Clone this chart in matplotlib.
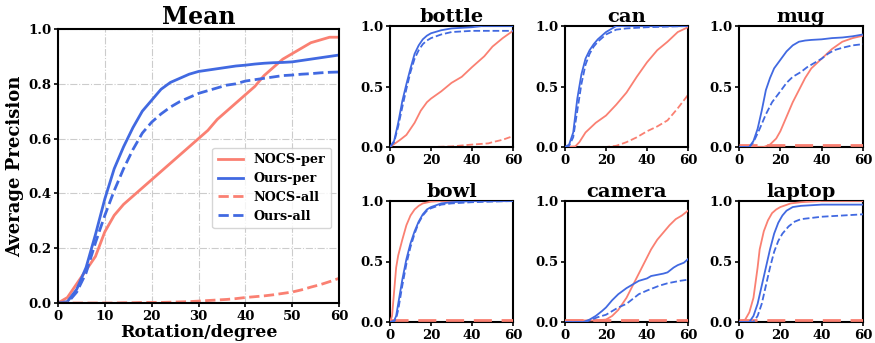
import matplotlib
matplotlib.use("Agg")
import matplotlib.pyplot as plt

plt.rcParams['font.family'] = ['DejaVu Serif']
plt.rcParams['font.weight'] = 'bold'

SALMON = '#FA8072'
BLUE = '#4169E1'

# ---------------- Mean panel data ----------------
mean_x = [0, 2, 4, 6, 8, 10, 12, 14, 16, 18, 20, 22, 24, 26, 28, 30, 32, 34, 36, 38,
          40, 42, 44, 46, 48, 50, 52, 54, 56, 58, 60]
mean_nocs_per = [0.0, 0.02, 0.07, 0.12, 0.17, 0.26, 0.32, 0.36, 0.39, 0.42, 0.45, 0.48,
                 0.51, 0.54, 0.57, 0.60, 0.63, 0.67, 0.70, 0.73, 0.76, 0.79, 0.83, 0.86,
                 0.89, 0.91, 0.93, 0.95, 0.96, 0.97, 0.97]
mean_ours_per = [0.0, 0.005, 0.05, 0.13, 0.25, 0.38, 0.49, 0.57, 0.64, 0.70, 0.74, 0.78,
                 0.805, 0.82, 0.835, 0.845, 0.85, 0.855, 0.86, 0.865, 0.868, 0.872, 0.875,
                 0.877, 0.878, 0.88, 0.885, 0.89, 0.895, 0.90, 0.905]
mean_nocs_all = [0.0, 0.0, 0.0, 0.0, 0.0, 0.0, 0.0, 0.001, 0.001, 0.002, 0.002, 0.002,
                 0.003, 0.004, 0.005, 0.007, 0.009, 0.011, 0.013, 0.016, 0.02, 0.023,
                 0.026, 0.03, 0.035, 0.04, 0.048, 0.058, 0.067, 0.078, 0.09]
mean_ours_all = [0.0, 0.0, 0.04, 0.11, 0.22, 0.32, 0.41, 0.49, 0.56, 0.62, 0.66, 0.69,
                 0.715, 0.735, 0.75, 0.765, 0.775, 0.785, 0.795, 0.80, 0.81, 0.815, 0.82,
                 0.825, 0.83, 0.832, 0.835, 0.837, 0.84, 0.842, 0.843]

# ---------------- per-category data ----------------
bottle_ours_per_x = [0, 2, 4, 6, 8, 10, 12, 14, 16, 18, 20, 25, 30, 40, 45, 60]
bottle_ours_per_y = [0.0, 0.05, 0.2, 0.38, 0.52, 0.65, 0.77, 0.84, 0.89, 0.92, 0.94, 0.965, 0.98, 0.99, 1.0, 1.0]
bottle_ours_all_x = [0, 2, 4, 6, 8, 10, 12, 14, 16, 18, 20, 25, 30, 40, 60]
bottle_ours_all_y = [0.0, 0.04, 0.17, 0.33, 0.48, 0.62, 0.73, 0.80, 0.85, 0.88, 0.90, 0.93, 0.95, 0.96, 0.96]
bottle_nocs_per_x = [0, 5, 8, 10, 12, 15, 18, 20, 25, 30, 35, 40, 44, 46, 50, 55, 60]
bottle_nocs_per_y = [0.0, 0.06, 0.10, 0.15, 0.20, 0.30, 0.37, 0.40, 0.46, 0.53, 0.58, 0.66, 0.72, 0.75, 0.83, 0.90, 0.96]
bottle_nocs_all_x = [0, 20, 30, 40, 48, 50, 55, 60]
bottle_nocs_all_y = [0.0, 0.0, 0.005, 0.02, 0.03, 0.04, 0.06, 0.09]

can_ours_per_x = [0, 2, 4, 6, 8, 10, 12, 14, 16, 18, 20, 24, 25, 60]
can_ours_per_y = [0.0, 0.02, 0.12, 0.40, 0.60, 0.73, 0.80, 0.85, 0.89, 0.92, 0.95, 0.99, 1.0, 1.0]
can_ours_all_x = [0, 2, 4, 6, 8, 10, 12, 14, 16, 18, 20, 25, 30, 40, 60]
can_ours_all_y = [0.0, 0.01, 0.08, 0.30, 0.52, 0.68, 0.77, 0.83, 0.87, 0.90, 0.93, 0.97, 0.98, 0.99, 1.0]
can_nocs_per_x = [0, 5, 7, 10, 15, 20, 25, 30, 35, 40, 45, 50, 55, 60]
can_nocs_per_y = [0.0, 0.005, 0.04, 0.12, 0.20, 0.26, 0.35, 0.45, 0.58, 0.70, 0.80, 0.87, 0.95, 0.99]
can_nocs_all_x = [0, 20, 25, 30, 35, 40, 45, 50, 55, 60]
can_nocs_all_y = [0.0, 0.0, 0.01, 0.04, 0.08, 0.13, 0.17, 0.22, 0.32, 0.43]

mug_ours_per_x = [0, 5, 7, 9, 11, 13, 15, 17, 20, 23, 26, 29, 32, 35, 40, 45, 50, 55, 60]
mug_ours_per_y = [0.0, 0.0, 0.05, 0.15, 0.30, 0.47, 0.57, 0.65, 0.72, 0.79, 0.84, 0.87, 0.88, 0.885, 0.89, 0.90, 0.905, 0.915, 0.93]
mug_ours_all_x = [0, 5, 7, 10, 13, 16, 20, 23, 26, 30, 33, 36, 40, 43, 46, 50, 55, 60]
mug_ours_all_y = [0.0, 0.0, 0.04, 0.15, 0.27, 0.37, 0.46, 0.53, 0.58, 0.62, 0.66, 0.69, 0.73, 0.77, 0.80, 0.82, 0.84, 0.85]
mug_nocs_per_x = [0, 12, 15, 18, 20, 23, 26, 29, 32, 35, 40, 45, 50, 55, 60]
mug_nocs_per_y = [0.0, 0.0, 0.02, 0.07, 0.13, 0.25, 0.37, 0.47, 0.57, 0.65, 0.73, 0.81, 0.87, 0.90, 0.92]
mug_nocs_all_x = [0, 60]
mug_nocs_all_y = [0.013, 0.013]

bowl_nocs_per_x = [0, 1, 2, 3, 4, 6, 8, 10, 12, 14, 16, 20, 25, 60]
bowl_nocs_per_y = [0.0, 0.05, 0.25, 0.45, 0.55, 0.68, 0.80, 0.88, 0.93, 0.96, 0.98, 0.995, 1.0, 1.0]
bowl_ours_per_x = [0, 2, 3, 4, 6, 8, 10, 12, 14, 16, 18, 20, 25, 30, 40, 60]
bowl_ours_per_y = [0.0, 0.01, 0.05, 0.15, 0.35, 0.52, 0.65, 0.75, 0.83, 0.89, 0.93, 0.95, 0.98, 0.99, 1.0, 1.0]
bowl_ours_all_x = [0, 2, 3, 4, 6, 8, 10, 12, 14, 16, 18, 20, 25, 30, 40, 60]
bowl_ours_all_y = [0.0, 0.005, 0.03, 0.10, 0.30, 0.48, 0.62, 0.73, 0.82, 0.88, 0.92, 0.94, 0.97, 0.98, 0.99, 1.0]
bowl_nocs_all_x = [0, 60]
bowl_nocs_all_y = [0.013, 0.013]

camera_ours_per_x = [0, 9, 12, 15, 18, 20, 23, 26, 30, 33, 36, 40, 42, 45, 48, 50, 53, 55, 58, 60]
camera_ours_per_y = [0.0, 0.0, 0.02, 0.05, 0.09, 0.12, 0.18, 0.23, 0.28, 0.31, 0.34, 0.36, 0.38, 0.39, 0.40, 0.41, 0.45, 0.47, 0.49, 0.52]
camera_ours_all_x = [0, 10, 13, 16, 20, 23, 26, 30, 33, 36, 40, 43, 46, 50, 53, 56, 60]
camera_ours_all_y = [0.0, 0.0, 0.02, 0.04, 0.06, 0.09, 0.12, 0.15, 0.19, 0.23, 0.26, 0.28, 0.30, 0.32, 0.33, 0.34, 0.35]
camera_nocs_per_x = [0, 15, 20, 23, 26, 30, 33, 36, 39, 42, 45, 48, 51, 54, 57, 60]
camera_nocs_per_y = [0.013, 0.013, 0.02, 0.05, 0.10, 0.20, 0.30, 0.40, 0.50, 0.60, 0.68, 0.74, 0.80, 0.85, 0.88, 0.92]
camera_nocs_all_x = [0, 60]
camera_nocs_all_y = [0.013, 0.013]

laptop_nocs_per_x = [0, 3, 5, 7, 9, 10, 12, 14, 16, 18, 20, 25, 30, 40, 60]
laptop_nocs_per_y = [0.0, 0.02, 0.08, 0.20, 0.45, 0.60, 0.75, 0.84, 0.90, 0.93, 0.95, 0.98, 0.99, 1.0, 1.0]
laptop_ours_per_x = [0, 5, 7, 9, 11, 13, 15, 17, 19, 21, 23, 26, 30, 40, 60]
laptop_ours_per_y = [0.0, 0.0, 0.05, 0.15, 0.30, 0.45, 0.60, 0.73, 0.82, 0.88, 0.92, 0.95, 0.96, 0.97, 0.97]
laptop_ours_all_x = [0, 7, 9, 11, 13, 15, 17, 19, 21, 24, 27, 30, 35, 40, 50, 60]
laptop_ours_all_y = [0.0, 0.0, 0.05, 0.15, 0.30, 0.45, 0.58, 0.67, 0.73, 0.79, 0.83, 0.85, 0.86, 0.87, 0.88, 0.89]
laptop_nocs_all_x = [0, 60]
laptop_nocs_all_y = [0.013, 0.013]

legend_labels = ['NOCS-per', 'Ours-per', 'NOCS-all', 'Ours-all']
main_xticks = [0, 10, 20, 30, 40, 50, 60]
main_yticks = [0.0, 0.2, 0.4, 0.6, 0.8, 1.0]
small_xticks = [0, 20, 40, 60]
small_yticks = [0.0, 0.5, 1.0]

W, H = 875, 343
fig = plt.figure(figsize=(W / 100, H / 100), dpi=100)


def px_axes(left, top, right, bottom):
    return fig.add_axes([left / W, (H - bottom) / H, (right - left) / W, (bottom - top) / H])


# ---------------- Mean panel ----------------
ax = px_axes(58, 29, 339, 303)
lw = 2.0
ax.plot(mean_x, mean_nocs_per, color=SALMON, lw=lw, label=legend_labels[0])
ax.plot(mean_x, mean_ours_per, color=BLUE, lw=lw, label=legend_labels[1])
ax.plot(mean_x, mean_nocs_all, color=SALMON, lw=lw, ls='--', label=legend_labels[2])
ax.plot(mean_x, mean_ours_all, color=BLUE, lw=lw, ls='--', label=legend_labels[3])
ax.set_xlim(0, 60)
ax.set_ylim(0, 1.0)
ax.set_xticks(main_xticks)
ax.set_yticks(main_yticks)
ax.set_yticklabels([f'{v:.1f}' for v in main_yticks])
ax.grid(True, ls='-.', color='#cccccc', lw=0.8)
ax.tick_params(labelsize=9.5, length=3, width=1.2, pad=2)
for s in ax.spines.values():
    s.set_linewidth(1.5)
ax.set_title('Mean', fontsize=17, fontweight='bold', pad=3)
ax.set_xlabel('Rotation/degree', fontsize=12.5, fontweight='bold', labelpad=1)
ax.set_ylabel('Average Precision', fontsize=13, fontweight='bold', labelpad=3)
leg = ax.legend(loc='center right', bbox_to_anchor=(0.995, 0.42),
                handlelength=2.0, borderpad=0.45, labelspacing=0.45, handletextpad=0.8,
                prop={'size': 9.2, 'weight': 'bold'})


# ---------------- small panels ----------------
def small(ax, title, nocs_per, ours_per, nocs_all, ours_all, flat):
    lw2 = 1.3
    if flat:
        ax.plot(*nocs_all, color=SALMON, lw=2.0, ls=(0, (6.5, 3.5)), zorder=3)
    else:
        ax.plot(*nocs_all, color=SALMON, lw=lw2, ls='--')
    ax.plot(*nocs_per, color=SALMON, lw=lw2, zorder=3)
    ax.plot(*ours_per, color=BLUE, lw=lw2, zorder=3)
    ax.plot(*ours_all, color=BLUE, lw=lw2, ls='--', zorder=3)
    ax.set_xlim(0, 60)
    ax.set_ylim(0, 1.0)
    ax.set_xticks(small_xticks)
    ax.set_yticks(small_yticks)
    ax.set_yticklabels([f'{v:.1f}' for v in small_yticks])
    ax.tick_params(labelsize=9.5, length=3, width=1.2, pad=2)
    for s in ax.spines.values():
        s.set_linewidth(1.5)
    ax.set_title(title, fontsize=14, fontweight='bold', pad=3)


row1 = (26, 147)
row2 = (201, 322)
cols = [(390, 513), (565, 688), (739, 863)]

small(px_axes(cols[0][0], row1[0], cols[0][1], row1[1]), 'bottle',
      (bottle_nocs_per_x, bottle_nocs_per_y), (bottle_ours_per_x, bottle_ours_per_y),
      (bottle_nocs_all_x, bottle_nocs_all_y), (bottle_ours_all_x, bottle_ours_all_y), False)
small(px_axes(cols[1][0], row1[0], cols[1][1], row1[1]), 'can',
      (can_nocs_per_x, can_nocs_per_y), (can_ours_per_x, can_ours_per_y),
      (can_nocs_all_x, can_nocs_all_y), (can_ours_all_x, can_ours_all_y), False)
small(px_axes(cols[2][0], row1[0], cols[2][1], row1[1]), 'mug',
      (mug_nocs_per_x, mug_nocs_per_y), (mug_ours_per_x, mug_ours_per_y),
      (mug_nocs_all_x, mug_nocs_all_y), (mug_ours_all_x, mug_ours_all_y), True)
small(px_axes(cols[0][0], row2[0], cols[0][1], row2[1]), 'bowl',
      (bowl_nocs_per_x, bowl_nocs_per_y), (bowl_ours_per_x, bowl_ours_per_y),
      (bowl_nocs_all_x, bowl_nocs_all_y), (bowl_ours_all_x, bowl_ours_all_y), True)
small(px_axes(cols[1][0], row2[0], cols[1][1], row2[1]), 'camera',
      (camera_nocs_per_x, camera_nocs_per_y), (camera_ours_per_x, camera_ours_per_y),
      (camera_nocs_all_x, camera_nocs_all_y), (camera_ours_all_x, camera_ours_all_y), True)
small(px_axes(cols[2][0], row2[0], cols[2][1], row2[1]), 'laptop',
      (laptop_nocs_per_x, laptop_nocs_per_y), (laptop_ours_per_x, laptop_ours_per_y),
      (laptop_nocs_all_x, laptop_nocs_all_y), (laptop_ours_all_x, laptop_ours_all_y), True)

fig.savefig('out.png', dpi=100)
